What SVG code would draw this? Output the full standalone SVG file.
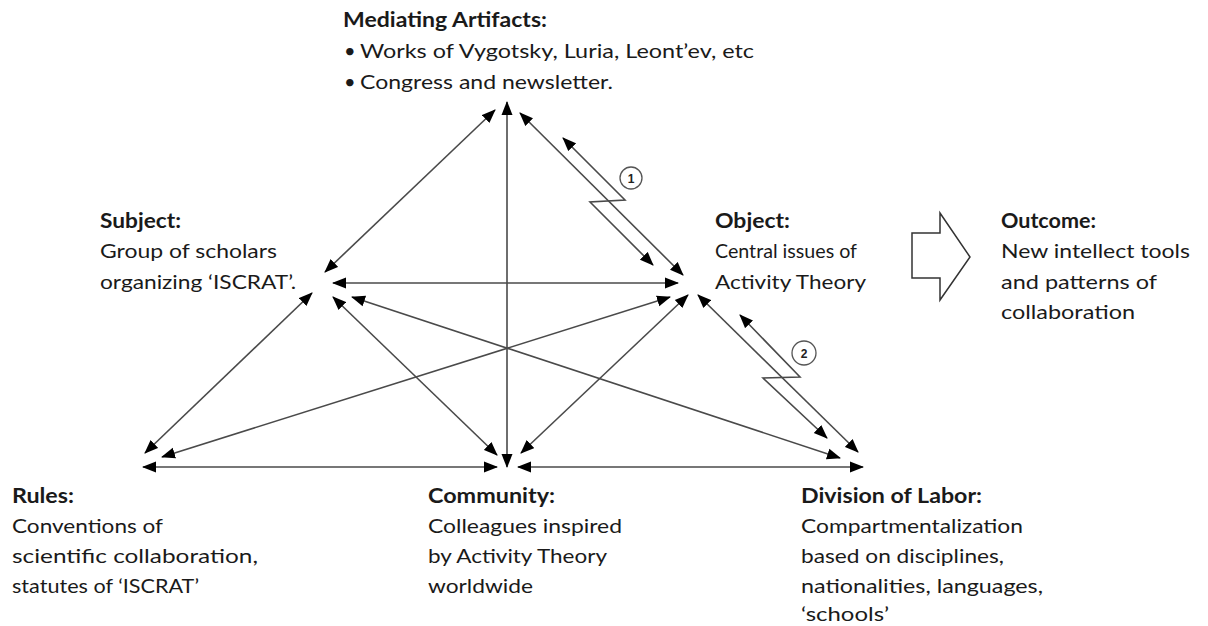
<svg xmlns="http://www.w3.org/2000/svg" width="1208" height="626" viewBox="0 0 1208 626">
<defs>
<marker id="ah" viewBox="0 -6 14 12" refX="13" refY="0" markerWidth="14" markerHeight="12" markerUnits="userSpaceOnUse" orient="auto-start-reverse">
<path d="M0,-5.5 L14,0 L0,5.5 z" fill="#000"/>
</marker>
<style>
.t{font-family:Lato,"Liberation Sans",sans-serif;font-size:20px;fill:#1a1a1a}
.b{font-weight:bold}
.c{stroke:#4a4a4a;stroke-width:1.6;fill:none;marker-start:url(#ah);marker-end:url(#ah)}
.n{font-family:"Liberation Sans",sans-serif;font-size:12px;font-weight:bold;fill:#222;text-anchor:middle}
</style>
</defs>
<rect width="1208" height="626" fill="#fff"/>
<g id="connectors">
<line class="c" x1="495" y1="110" x2="325" y2="272"/>
<line class="c" x1="507" y1="102" x2="507" y2="467"/>
<line class="c" x1="520" y1="113" x2="683" y2="275"/>
<line class="c" x1="333" y1="283" x2="678" y2="283"/>
<line class="c" x1="312" y1="293" x2="145" y2="453"/>
<line class="c" x1="333" y1="297" x2="497" y2="455"/>
<line class="c" x1="352" y1="297" x2="840" y2="458"/>
<line class="c" x1="670" y1="297" x2="162" y2="457"/>
<line class="c" x1="688" y1="295" x2="521" y2="453"/>
<line class="c" x1="698" y1="295" x2="858" y2="452"/>
<line class="c" x1="143" y1="467" x2="497" y2="467"/>
<line class="c" x1="518" y1="467" x2="863" y2="467"/>
<polyline class="c" points="563,138 625,200 590,202 653,265"/>
<polyline class="c" points="740,315 800,377 763,378 827,438"/>
</g>
<g id="marker1">
<circle cx="631" cy="178" r="11" fill="#fff" stroke="#555" stroke-width="1.3"/>
<text class="n" x="631" y="182.5">1</text>
</g>
<g id="marker2">
<circle cx="804" cy="353" r="12" fill="#fff" stroke="#555" stroke-width="1.3"/>
<text class="n" x="804" y="357.5">2</text>
</g>
<g id="mediating">
<text class="t b" x="343" y="27" textLength="204" lengthAdjust="spacingAndGlyphs">Mediating Artifacts:</text>
<text class="t" x="344" y="58">•</text>
<text class="t" x="360" y="58" textLength="394" lengthAdjust="spacingAndGlyphs">Works of Vygotsky, Luria, Leont’ev, etc</text>
<text class="t" x="344" y="89">•</text>
<text class="t" x="360" y="89" textLength="253" lengthAdjust="spacingAndGlyphs">Congress and newsletter.</text>
</g>
<g id="subject">
<text class="t b" x="100" y="228" textLength="81" lengthAdjust="spacingAndGlyphs">Subject:</text>
<text class="t" x="100" y="258" textLength="177" lengthAdjust="spacingAndGlyphs">Group of scholars</text>
<text class="t" x="100" y="289" textLength="196" lengthAdjust="spacingAndGlyphs">organizing ‘ISCRAT’.</text>
</g>
<g id="object">
<text class="t b" x="715" y="228" textLength="75" lengthAdjust="spacingAndGlyphs">Object:</text>
<text class="t" x="715" y="258" textLength="142" lengthAdjust="spacingAndGlyphs">Central issues of</text>
<text class="t" x="715" y="289" textLength="151" lengthAdjust="spacingAndGlyphs">Activity Theory</text>
</g>
<g id="outcome-arrow">
<polygon points="912,233 940,233 940,213 970,257 940,300 940,278 912,278" fill="#fff" stroke="#333" stroke-width="1.5"/>
</g>
<g id="outcome">
<text class="t b" x="1001" y="228" textLength="95" lengthAdjust="spacingAndGlyphs">Outcome:</text>
<text class="t" x="1001" y="258" textLength="189" lengthAdjust="spacingAndGlyphs">New intellect tools</text>
<text class="t" x="1001" y="289" textLength="156" lengthAdjust="spacingAndGlyphs">and patterns of</text>
<text class="t" x="1001" y="319" textLength="134" lengthAdjust="spacingAndGlyphs">collaboration</text>
</g>
<g id="rules">
<text class="t b" x="12" y="503" textLength="62" lengthAdjust="spacingAndGlyphs">Rules:</text>
<text class="t" x="12" y="533" textLength="151" lengthAdjust="spacingAndGlyphs">Conventions of</text>
<text class="t" x="12" y="563" textLength="246" lengthAdjust="spacingAndGlyphs">scientific collaboration,</text>
<text class="t" x="12" y="593" textLength="187" lengthAdjust="spacingAndGlyphs">statutes of ‘ISCRAT’</text>
</g>
<g id="community">
<text class="t b" x="428" y="503" textLength="127" lengthAdjust="spacingAndGlyphs">Community:</text>
<text class="t" x="428" y="533" textLength="194" lengthAdjust="spacingAndGlyphs">Colleagues inspired</text>
<text class="t" x="428" y="563" textLength="179" lengthAdjust="spacingAndGlyphs">by Activity Theory</text>
<text class="t" x="428" y="593" textLength="105" lengthAdjust="spacingAndGlyphs">worldwide</text>
</g>
<g id="division">
<text class="t b" x="801" y="503" textLength="181" lengthAdjust="spacingAndGlyphs">Division of Labor:</text>
<text class="t" x="801" y="533" textLength="222" lengthAdjust="spacingAndGlyphs">Compartmentalization</text>
<text class="t" x="801" y="563" textLength="203" lengthAdjust="spacingAndGlyphs">based on disciplines,</text>
<text class="t" x="801" y="593" textLength="242" lengthAdjust="spacingAndGlyphs">nationalities, languages,</text>
<text class="t" x="801" y="621" textLength="88" lengthAdjust="spacingAndGlyphs">‘schools’</text>
</g>
</svg>
